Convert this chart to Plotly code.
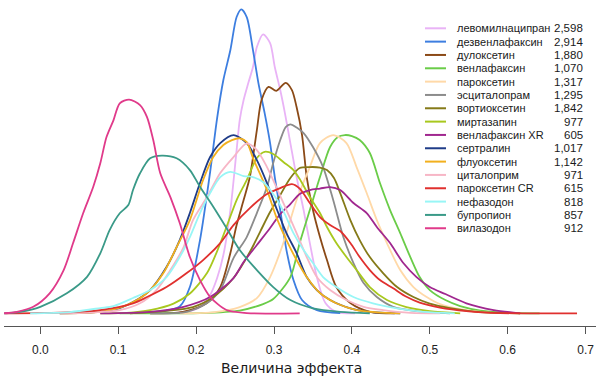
import plotly.graph_objects as go

# ---- data (effect size, density) ----
drugs = ["левомилнаципран", "дезвенлафаксин", "дулоксетин", "венлафаксин",
         "пароксетин", "эсциталопрам", "вортиоксетин", "миртазапин",
         "венлафаксин XR", "сертралин", "флуоксетин", "циталоприм",
         "пароксетин CR", "нефазодон", "бупропион", "вилазодон"]
n_patients = [2598, 2914, 1880, 1070, 1317, 1295, 1842, 977,
              605, 1017, 1142, 971, 615, 818, 857, 912]
colors = ["#E9B3F6", "#3D7EE0", "#8B4A17", "#6ACC48", "#FFD9A8", "#8C8C8C",
          "#857A18", "#A8C81E", "#A0278F", "#1F3C88", "#F2B01E", "#F7B6C6",
          "#E0302E", "#98F6F6", "#3A9A88", "#E03A8A"]

levo_x = [0.167, 0.192, 0.205, 0.218, 0.227, 0.235, 0.244, 0.252, 0.256, 0.261, 0.267, 0.273, 0.278,
          0.286, 0.295, 0.301, 0.308, 0.314, 0.321, 0.329, 0.338, 0.346, 0.355, 0.366, 0.380, 0.404]
levo_y = [0.01, 0.09, 0.25, 0.73, 1.41, 2.33, 4.13, 6.53, 7.73, 8.53, 9.21, 9.85, 10.65,
          11.16, 10.81, 9.85, 8.93, 8.01, 6.81, 5.45, 4.13, 2.81, 1.45, 0.41, 0.06, 0.0]

desv_x = [0.128, 0.160, 0.179, 0.192, 0.205, 0.218, 0.227, 0.235, 0.244, 0.252, 0.258, 0.265,
          0.273, 0.280, 0.288, 0.295, 0.301, 0.308, 0.316, 0.325, 0.336, 0.355, 0.385]
desv_y = [0.01, 0.09, 0.27, 1.05, 2.93, 5.65, 7.81, 9.33, 10.53, 11.85, 12.16, 11.85,
          10.53, 9.21, 8.01, 6.81, 5.45, 4.13, 2.53, 1.33, 0.53, 0.13, 0.01]

dulo_x = [0.141, 0.183, 0.214, 0.231, 0.244, 0.252, 0.261, 0.269, 0.278, 0.284, 0.293, 0.303,
          0.315, 0.323, 0.329, 0.336, 0.342, 0.350, 0.359, 0.368, 0.380, 0.398, 0.423, 0.455]
dulo_y = [0.0, 0.06, 0.41, 1.05, 2.41, 3.53, 4.53, 5.45, 7.33, 8.53, 9.06, 8.90,
          9.22, 8.93, 8.25, 7.13, 5.45, 4.13, 3.05, 2.13, 1.05, 0.41, 0.06, 0.0]

venl_x = [0.102, 0.205, 0.256, 0.286, 0.299, 0.321, 0.333, 0.346, 0.359, 0.372, 0.382, 0.391, 0.400,
          0.410, 0.423, 0.436, 0.449, 0.462, 0.475, 0.487, 0.500, 0.520, 0.539, 0.565, 0.603, 0.641]
venl_y = [0.0, 0.01, 0.11, 0.37, 0.57, 1.45, 2.81, 4.13, 5.45, 6.65, 7.05, 7.13, 7.09,
          6.93, 6.41, 5.21, 4.13, 3.21, 2.25, 1.45, 0.93, 0.53, 0.29, 0.11, 0.02, 0.0]

parox_x = [0.179, 0.224, 0.256, 0.278, 0.295, 0.312, 0.329, 0.346, 0.359, 0.376, 0.393,
           0.406, 0.419, 0.432, 0.445, 0.462, 0.479, 0.496, 0.513, 0.539, 0.577, 0.616]
parox_y = [0.0, 0.05, 0.25, 0.61, 1.45, 2.81, 4.53, 5.85, 6.81, 7.13, 6.81,
           5.85, 4.81, 3.73, 2.81, 1.73, 1.05, 0.65, 0.37, 0.17, 0.03, 0.0]

escit_x = [0.141, 0.188, 0.214, 0.231, 0.248, 0.265, 0.278, 0.291, 0.299, 0.308, 0.315, 0.321,
           0.330, 0.338, 0.350, 0.363, 0.376, 0.389, 0.402, 0.415, 0.432, 0.453, 0.488, 0.526]
escit_y = [0.0, 0.06, 0.41, 0.93, 2.21, 3.05, 4.01, 5.05, 6.01, 6.93, 7.45, 7.56,
           7.41, 7.21, 6.65, 5.85, 4.53, 3.05, 2.01, 1.21, 0.65, 0.26, 0.07, 0.0]

vort_x = [0.115, 0.196, 0.222, 0.248, 0.269, 0.282, 0.295, 0.308, 0.321, 0.333, 0.346, 0.359, 0.368,
          0.377, 0.385, 0.398, 0.410, 0.423, 0.440, 0.458, 0.479, 0.500, 0.526, 0.565, 0.616]
vort_y = [0.0, 0.25, 0.65, 1.41, 2.45, 3.25, 4.05, 4.73, 5.41, 5.81, 5.85, 5.83, 5.73,
          5.41, 4.81, 3.73, 2.93, 2.25, 1.61, 1.05, 0.65, 0.39, 0.21, 0.05, 0.0]

mirt_x = [0.077, 0.111, 0.141, 0.171, 0.192, 0.214, 0.226, 0.239, 0.252, 0.265, 0.278, 0.288, 0.299,
          0.312, 0.325, 0.333, 0.346, 0.359, 0.368, 0.380, 0.393, 0.406, 0.423, 0.445, 0.470, 0.500, 0.539]
mirt_y = [0.0, 0.02, 0.13, 0.39, 0.79, 1.61, 2.41, 3.45, 4.53, 5.33, 6.21, 6.46, 6.37,
          6.05, 5.73, 5.37, 4.65, 4.01, 3.45, 2.81, 2.25, 1.73, 1.05, 0.53, 0.25, 0.09, 0.0]

venlxr_x = [0.077, 0.141, 0.184, 0.218, 0.248, 0.261, 0.278, 0.295, 0.308, 0.321, 0.333, 0.346, 0.359,
            0.372, 0.385, 0.402, 0.419, 0.432, 0.449, 0.466, 0.483, 0.500, 0.520, 0.547, 0.582, 0.616]
venlxr_y = [0.0, 0.06, 0.26, 0.65, 1.41, 2.05, 2.73, 3.41, 3.97, 4.37, 4.77, 4.93, 4.99,
            5.05, 4.93, 4.41, 4.01, 3.45, 2.81, 2.01, 1.45, 1.05, 0.77, 0.40, 0.13, 0.0]

sert_x = [0.025, 0.064, 0.094, 0.119, 0.141, 0.162, 0.179, 0.192, 0.205, 0.218, 0.231, 0.248,
          0.265, 0.278, 0.291, 0.303, 0.316, 0.329, 0.342, 0.355, 0.372, 0.398, 0.423, 0.462]
sert_y = [0.0, 0.03, 0.13, 0.45, 0.93, 1.85, 2.93, 4.01, 5.21, 6.25, 6.81, 7.13,
          6.81, 6.13, 5.21, 4.21, 3.21, 2.41, 1.45, 0.93, 0.53, 0.20, 0.06, 0.0]

fluo_x = [0.025, 0.077, 0.111, 0.137, 0.158, 0.175, 0.192, 0.209, 0.222, 0.235, 0.246, 0.256,
          0.265, 0.273, 0.291, 0.303, 0.316, 0.329, 0.342, 0.359, 0.380, 0.406, 0.432, 0.462]
fluo_y = [0.0, 0.06, 0.33, 0.81, 1.61, 2.65, 3.73, 5.33, 6.25, 6.73, 6.93, 7.00,
          6.85, 6.21, 4.93, 3.85, 2.93, 2.13, 1.45, 0.81, 0.40, 0.13, 0.04, 0.0]

cital_x = [0.025, 0.064, 0.102, 0.128, 0.149, 0.167, 0.184, 0.196, 0.214, 0.231, 0.248, 0.265, 0.278,
           0.291, 0.303, 0.316, 0.329, 0.342, 0.355, 0.372, 0.393, 0.415, 0.440, 0.475, 0.513]
cital_y = [0.0, 0.03, 0.13, 0.40, 0.93, 1.73, 2.65, 3.73, 4.65, 5.61, 6.25, 6.80, 6.53,
           5.85, 5.05, 4.13, 3.21, 2.25, 1.45, 0.93, 0.53, 0.26, 0.13, 0.02, 0.0]

paroxcr_x = [-0.045, 0.025, 0.077, 0.119, 0.137, 0.162, 0.188, 0.209, 0.231, 0.248, 0.269, 0.291, 0.308,
             0.323, 0.333, 0.346, 0.359, 0.372, 0.385, 0.398, 0.410, 0.423, 0.436, 0.453, 0.470, 0.487,
             0.513, 0.547, 0.590, 0.689]
paroxcr_y = [0.0, 0.03, 0.13, 0.40, 0.65, 1.05, 1.61, 2.13, 2.81, 3.53, 4.21, 4.77, 5.01,
             5.17, 4.99, 4.41, 3.85, 3.53, 3.29, 2.81, 2.25, 1.73, 1.33, 1.00, 0.66, 0.43,
             0.23, 0.09, 0.01, 0.0]

nefa_x = [-0.013, 0.038, 0.077, 0.094, 0.119, 0.141, 0.162, 0.179, 0.192, 0.205, 0.218, 0.231, 0.244, 0.261,
          0.273, 0.286, 0.299, 0.312, 0.325, 0.338, 0.350, 0.363, 0.380, 0.402, 0.427, 0.458, 0.492, 0.532]
nefa_y = [0.0, 0.05, 0.21, 0.29, 0.61, 0.93, 1.45, 2.25, 3.05, 4.01, 4.81, 5.45, 5.66, 5.49,
          5.45, 5.25, 4.77, 4.09, 3.21, 2.53, 2.01, 1.45, 1.05, 0.65, 0.40, 0.20, 0.06, 0.0]

bupr_x = [-0.047, -0.026, 0.000, 0.034, 0.060, 0.077, 0.089, 0.102, 0.113, 0.119, 0.128, 0.141, 0.156,
          0.175, 0.192, 0.205, 0.222, 0.239, 0.256, 0.278, 0.299, 0.321, 0.350, 0.385, 0.423]
bupr_y = [0.0, 0.06, 0.26, 0.80, 1.46, 2.40, 3.33, 4.00, 4.33, 4.93, 5.60, 6.20, 6.31,
          6.20, 5.73, 5.06, 4.26, 3.41, 2.53, 1.73, 1.05, 0.53, 0.20, 0.06, 0.0]

vila_x = [-0.047, -0.030, -0.009, 0.012, 0.030, 0.042, 0.055, 0.068, 0.077, 0.085, 0.094, 0.102, 0.114,
          0.128, 0.137, 0.145, 0.154, 0.167, 0.179, 0.192, 0.205, 0.218, 0.239, 0.265, 0.333]
vila_y = [0.0, 0.06, 0.26, 0.80, 1.73, 2.80, 4.00, 5.06, 6.00, 7.05, 7.73, 8.40, 8.55,
          8.33, 7.85, 6.93, 5.60, 4.65, 3.61, 2.25, 1.33, 0.66, 0.13, 0.01, 0.0]

series_x = [levo_x, desv_x, dulo_x, venl_x, parox_x, escit_x, vort_x, mirt_x,
            venlxr_x, sert_x, fluo_x, cital_x, paroxcr_x, nefa_x, bupr_x, vila_x]
series_y = [levo_y, desv_y, dulo_y, venl_y, parox_y, escit_y, vort_y, mirt_y,
            venlxr_y, sert_y, fluo_y, cital_y, paroxcr_y, nefa_y, bupr_y, vila_y]

x_ticks = [0.0, 0.1, 0.2, 0.3, 0.4, 0.5, 0.6, 0.7]
x_title = "Величина эффекта"

# ---- layout geometry (pixels) ----
W, H = 600, 385
ML, MR, MT, MB = 4, 4, 5, 59
PW, PH = W - ML - MR, H - MT - MB


def px_to_paper(px, py):
    return (px - ML) / PW, (H - MB - py) / PH


fig = go.Figure()
for name, xs, ys, col in zip(drugs, series_x, series_y, colors):
    fig.add_trace(go.Scatter(
        x=xs, y=ys, mode="lines", name=name, showlegend=False, hoverinfo="skip",
        line=dict(color=col, width=1.8, shape="spline", smoothing=0.8)))

shapes, annotations = [], []
font_name = dict(family="Liberation Sans, Arial, sans-serif", size=11, color="#1a1a1a")
font_num = dict(family="Liberation Sans, Arial, sans-serif", size=11.5, color="#1a1a1a")
for i, (name, n, col) in enumerate(zip(drugs, n_patients, colors)):
    py = 28.3 + 13.33 * i
    x0, y0 = px_to_paper(425, py)
    x1, _ = px_to_paper(446, py)
    shapes.append(dict(type="line", xref="paper", yref="paper", x0=x0, x1=x1, y0=y0, y1=y0,
                       line=dict(color=col, width=2)))
    xt, _ = px_to_paper(455, py)
    annotations.append(dict(xref="paper", yref="paper", x=xt, y=y0, text=name, showarrow=False,
                            xanchor="left", yanchor="middle", font=font_name))
    xn, _ = px_to_paper(585, py)
    annotations.append(dict(xref="paper", yref="paper", x=xn, y=y0, text=f"{n:,}", showarrow=False,
                            xanchor="right", yanchor="middle", font=font_num))

xt, yt = px_to_paper(291, 368)
annotations.append(dict(xref="paper", yref="paper", x=xt, y=yt, text=x_title, showarrow=False,
                        xanchor="center", yanchor="middle",
                        font=dict(family="DejaVu Sans, sans-serif", size=14, color="#1a1a1a")))

x_lo = (ML - 40.3) / 779.0
x_hi = (W - MR - 40.3) / 779.0
y_lo = (313.3 - (H - MB)) / 25.0
y_hi = (313.3 - MT) / 25.0

fig.update_layout(
    width=W, height=H, margin=dict(l=ML, r=MR, t=MT, b=MB),
    paper_bgcolor="white", plot_bgcolor="white",
    shapes=shapes, annotations=annotations,
    xaxis=dict(range=[x_lo, x_hi], tickvals=x_ticks, tickformat=".1f",
               showline=True, linecolor="#555555", linewidth=1,
               ticks="outside", ticklen=7, tickcolor="#555555", tickwidth=1,
               ticklabelstandoff=6,
               tickfont=dict(family="Liberation Sans, Arial, sans-serif", size=12, color="#222222"),
               showgrid=False, zeroline=False, fixedrange=True),
    yaxis=dict(range=[y_lo, y_hi], visible=False, showgrid=False, zeroline=False, fixedrange=True),
)

fig.write_html("out.html",
               config={"displayModeBar": False},
               post_script="document.body.style.margin='0';document.body.style.padding='0';"
                           "document.body.style.overflow='hidden';")
